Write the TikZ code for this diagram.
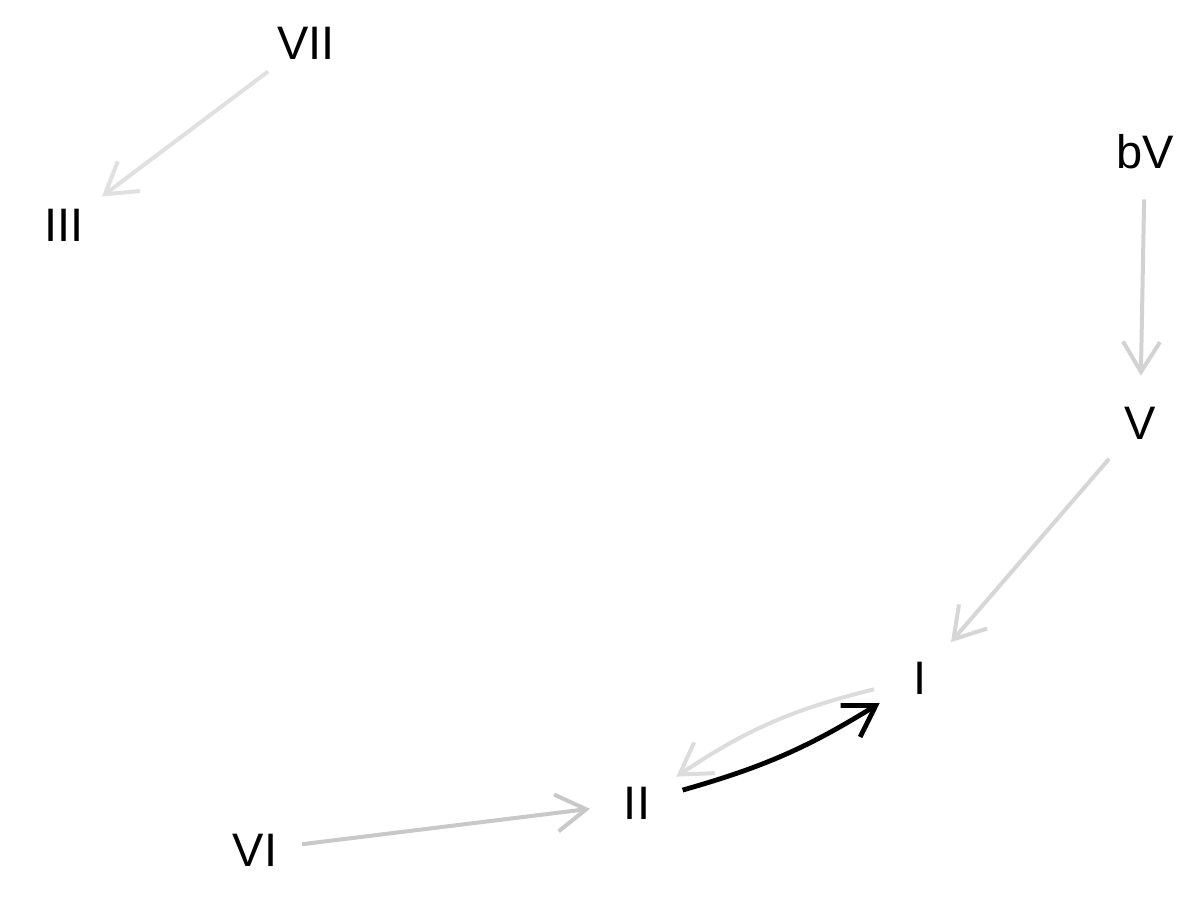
\documentclass[tikz,border=0pt]{standalone}
\usepackage{fontspec}
\setmainfont{Liberation Sans}
\usetikzlibrary{arrows.meta}
\definecolor{gA}{HTML}{E0E0E0}
\definecolor{gB}{HTML}{D2D2D2}
\definecolor{gC}{HTML}{D6D6D6}
\definecolor{gD}{HTML}{C8C8C8}
\definecolor{gE}{HTML}{DCDCDC}
\begin{document}
\begin{tikzpicture}[x=0.5pt,y=-0.5pt,
  lbl/.style={circle,inner sep=0pt,minimum size=47pt,font=\fontsize{23.5}{28}\selectfont,text=black},
  garrow/.style={line width=2pt,-{Straight Barb[length=15pt,width=18.5pt]}},
  barrow/.style={line width=2.4pt,draw=black,-{Straight Barb[length=15pt,width=18.5pt]}}]
\useasboundingbox[fill=white] (0,0) rectangle (1200,900);
\node[lbl] (VII) at (306,43) {VII};
\node[lbl] (III) at (64,225) {III};
\node[lbl] (bV) at (1145,152) {bV};
\node[lbl] (V) at (1140,423) {V};
\node[lbl] (I) at (920,678) {I};
\node[lbl] (II) at (637,803) {II};
\node[lbl] (VI) at (255,850) {VI};
\draw[garrow,draw=gA] (VII) -- (III);
\draw[garrow,draw=gB] (bV) -- (V);
\draw[garrow,draw=gC] (V) -- (I);
\draw[garrow,draw=gD] (VI) -- (II);
\draw[garrow,draw=gE] (I) to[bend right=10] (II);
\draw[barrow] (II) to[bend right=8] (I);
\end{tikzpicture}
\end{document}
